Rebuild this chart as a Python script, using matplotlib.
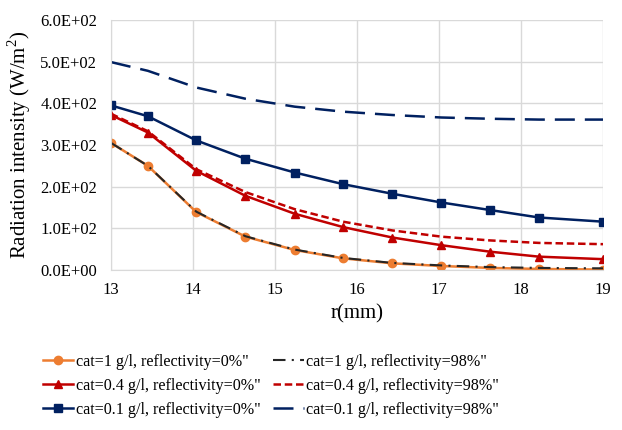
import matplotlib
matplotlib.use("Agg")
import matplotlib.pyplot as plt
from matplotlib.ticker import FuncFormatter

plt.rcParams['font.family'] = ['Liberation Serif', 'DejaVu Serif']
plt.rcParams['mathtext.fontset'] = 'custom'
plt.rcParams['mathtext.rm'] = 'Liberation Serif'

r = [13, 13.45, 14.04, 14.64, 15.24, 15.83, 16.43, 17.03, 17.62, 18.22, 19]

cat1_r0 = [305, 250, 139, 80, 48, 28, 16, 9.6, 5, 2.5, 1]
cat1_r98 = [305, 250, 140, 81, 49, 29, 17, 11, 7, 5, 4]
cat04_r0 = [372, 330, 238, 178, 135, 103, 78, 59.5, 44, 32, 26]
cat04_r98 = [375, 333, 242, 187, 146, 116, 95, 80, 71, 65, 62]
cat01_r0 = [395, 369, 311, 267, 234, 206, 183, 162, 144, 126, 116]
cat01_r98 = [499, 478, 438, 411, 392, 380, 372, 366, 363, 361, 361]

labels = ['cat=1 g/l, reflectivity=0%"', 'cat=1 g/l, reflectivity=98%"',
          'cat=0.4 g/l, reflectivity=0%"', 'cat=0.4 g/l, reflectivity=98%"',
          'cat=0.1 g/l, reflectivity=0%"', 'cat=0.1 g/l, reflectivity=98%"']

orange = '#ED7D31'
red = '#C00000'
navy = '#002060'

fig = plt.figure(figsize=(6.22, 4.30), dpi=100)
ax = fig.add_axes([111 / 622, 1 - 270 / 430, 492 / 622, 250 / 430])

h = []
h += ax.plot(r, cat1_r0, color=orange, lw=1.8, marker='o', ms=6, label=labels[0])
h += ax.plot(r, cat1_r98, color='#262626', lw=1.5, dashes=[6, 3, 1, 3], label=labels[1])
h += ax.plot(r, cat04_r0, color=red, lw=1.8, marker='^', ms=6, label=labels[2])
h += ax.plot(r, cat04_r98, color=red, lw=1.8, dashes=[3, 1.5], label=labels[3])
h += ax.plot(r, cat01_r0, color=navy, lw=1.8, marker='s', ms=6, label=labels[4])
h += ax.plot(r, cat01_r98, color=navy, lw=1.8, dashes=[8, 4], label=labels[5])

ax.set_xlim(13, 19)
ax.set_ylim(0, 600)
ax.set_xticks(range(13, 20))
ax.set_yticks(range(0, 601, 100))
ax.yaxis.set_major_formatter(FuncFormatter(lambda v, p: '%.1fE+02' % (v / 100) if v > 0 else '0.0E+00'))
ax.grid(True, color='#d9d9d9', lw=1)
ax.set_axisbelow(True)
for s in ['top', 'right']:
    ax.spines[s].set_visible(False)
for s in ['left', 'bottom']:
    ax.spines[s].set_color('#d9d9d9')
ax.tick_params(length=0, labelsize=12)
ax.tick_params(axis='x', pad=9)
ax.tick_params(axis='y', pad=10)
ax.set_xlabel('r(mm)', fontsize=15, labelpad=4)
ax.set_ylabel('Radiation intensity (W/m$^2$)', fontsize=15, labelpad=5)

# left column = reflectivity 0%, right column = 98%
order = [0, 2, 4, 1, 3, 5]
fig.legend([h[i] for i in order], [labels[i] for i in order], loc='lower left',
           bbox_to_anchor=(28 / 622, -0.005), ncol=2, frameon=False, fontsize=11.6,
           handlelength=1.9, handletextpad=0.15, columnspacing=0.8, labelspacing=0.5)

fig.savefig('out.png', dpi=100)
